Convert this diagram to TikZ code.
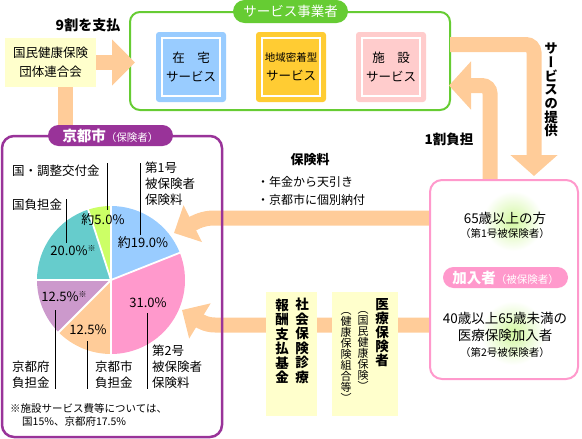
\documentclass[tikz,border=0pt]{standalone}
\usepackage{fontspec}
\setmainfont{Noto Sans CJK JP}
\newfontfamily\vfont[RawFeature=+vert]{Noto Sans CJK JP}
\usetikzlibrary{arrows.meta}
\definecolor{sgreen}{HTML}{66CC33}
\definecolor{arr}{HTML}{FFCC99}
\definecolor{kyel}{HTML}{FFFFCC}
\definecolor{kpur}{HTML}{993399}
\definecolor{kpink}{HTML}{FF99CC}
\definecolor{bblue}{HTML}{99CCFF}
\definecolor{byel}{HTML}{FFCC33}
\definecolor{bpink}{HTML}{FFCCCC}
\definecolor{ppink}{HTML}{FF99CC}
\definecolor{ppeach}{HTML}{FFCC99}
\definecolor{ppurple}{HTML}{CC99CC}
\definecolor{pteal}{HTML}{66CCCC}
\definecolor{pgreen}{HTML}{CCFF66}
\definecolor{glow}{HTML}{D2F7A0}
\newcommand\fsz[2]{\fontsize{#1}{#2}\selectfont}
\newcommand\kome{\raisebox{4pt}{\fsz{8}{8}※}}
\tikzset{
  band/.style={draw=arr, line width=15pt},
  txt/.style={inner sep=0pt, font=\fsz{12.5}{16}, align=left},
  svcbg/.style={minimum width=70pt, minimum height=70pt, rounded corners=3pt, inner sep=0pt},
  svcfr/.style={draw=white, line width=2pt, minimum width=58pt, minimum height=58pt, inner sep=0pt, align=center, font=\fsz{12.5}{19}},
  leader/.style={draw=black, line width=0.8pt},
  ylbox/.style={fill=kyel, inner sep=0pt},
  vbold/.style={inner sep=0pt, align=center, font=\vfont\bfseries\fsz{13.5}{14.5}},
  vthin/.style={inner sep=0pt, align=center, font=\vfont\fsz{11}{11}},
}
\begin{document}
\begin{tikzpicture}[x=1pt,y=-1pt]
\useasboundingbox (0,0) rectangle (582,439);

% ---------- service provider box ----------
\node[draw=sgreen, line width=2pt, rounded corners=10pt, minimum width=320pt, minimum height=98pt, fill=white] (svc) at (290,61) {};
\node[fill=sgreen, rounded corners=11.5pt, minimum width=115pt, minimum height=23pt, inner sep=0pt, text=white, font=\fsz{13.5}{14}] (svclabel) at (290.5,11.5) {サービス事業者};

\node[svcbg, fill=bblue] (zaitakubg) at (191,67) {};
\node[svcfr] (zaitaku) at (zaitakubg) {在　宅\\サービス};
\node[svcbg, fill=byel] (chiikibg) at (291,67) {};
\node[svcfr] (chiiki) at (chiikibg) {{\fsz{10.5}{19}地域密着型}\\サービス};
\node[svcbg, fill=bpink] (shisetsubg) at (391,67) {};
\node[svcfr] (shisetsu) at (shisetsubg) {施　設\\サービス};

% ---------- kokuho ----------
\node[ylbox, minimum width=91pt, minimum height=49pt, align=center, font=\fsz{12.5}{19}] (kokuho) at (50.5,62.5) {国民健康保険\\団体連合会};
\node[inner sep=0pt, font=\bfseries\fsz{14}{14}] (pay9) at (88,25) {9割を支払};

% ---------- arrows ----------
\draw[band, -{Triangle[length=23pt,width=45pt]}] (kokuho.east) -- (135,62.5);
\draw[band] (65.5,87) -- (65.5,132);
\draw[band, rounded corners=8pt, -{Triangle[length=21pt,width=46pt]}] (450,44.5) -- (534,44.5) -- (534,176);
\draw[band, rounded corners=8pt, -{Triangle[length=22pt,width=47pt]}] (490,181) -- (490,85.5) -- (449,85.5);
\draw[band, -{Triangle[length=21pt,width=40pt]}] (431,218) -- (214,218) .. controls (203,218) and (196,222) .. (174,233);
\draw[band, -{Triangle[length=21pt,width=40pt]}] (431,325) -- (215,325) .. controls (206,325) and (200,321) .. (182,310);

\node[inner sep=0pt, font=\vfont\bfseries\fsz{13.5}{13.7}, align=center] (teikyo) at (551,90) {サ\\ー\\ビ\\ス\\の\\提\\供};
\node[inner sep=0pt, font=\bfseries\fsz{13.5}{14}] (wari1) at (449,139) {1割負担};

\node[inner sep=0pt, font=\bfseries\fsz{13}{14}] (hokenryo) at (310,160) {保険料};
\node[txt, anchor=west, font=\fsz{12}{18}] (hkr) at (257,191) {・年金から天引き\\・京都市に個別納付};

% ---------- middle boxes ----------
\node[ylbox, minimum width=51pt, minimum height=124pt] (shaho) at (291.5,354) {};
\node[vbold] (shaho1) at (302,341) {社\\会\\保\\険\\診\\療};
\node[vbold] (shaho2) at (282,341) {報\\酬\\支\\払\\基\\金};
\node[ylbox, minimum width=66pt, minimum height=124pt] (iryo) at (365,354) {};
\node[vbold, font=\vfont\bfseries\fsz{13.5}{14}] (iryo1) at (382,333) {医\\療\\保\\険\\者};
\node[vthin] (iryo2) at (363,351) {（\\国\\民\\健\\康\\保\\険\\）};
\node[vthin] (iryo3) at (346,357) {（\\健\\康\\保\\険\\組\\合\\等\\）};

% ---------- insured box ----------
\node[draw=kpink, line width=2pt, rounded corners=12pt, minimum width=148pt, minimum height=199pt, fill=white] (kanyu) at (504,279.5) {};
\shade[inner color=glow, outer color=white] (513,221) circle (30);
\shade[inner color=glow, outer color=white] (513,333) circle (32);
\node[inner sep=0pt, font=\fsz{13.5}{16}] (age65) at (505,218) {65歳以上の方};
\node[inner sep=0pt, font=\fsz{10.5}{12}] (age65b) at (505,234) {（第1号被保険者）};
\node[fill=kpink, rounded corners=10.5pt, minimum width=125pt, minimum height=21pt, inner sep=0pt, text=white] (kanyulabel) at (505.5,277.5) {{\bfseries\fsz{14.5}{15}加入者}{\fsz{10.5}{12}（被保険者）}};
\node[inner sep=0pt, align=center, font=\fsz{13.5}{17}] (age40) at (505,326.5) {40歳以上65歳未満の\\医療保険加入者};
\node[inner sep=0pt, font=\fsz{10.5}{12}] (age40b) at (505,353) {（第2号被保険者）};

% ---------- Kyoto city box ----------
\node[draw=kpur, line width=2.5pt, rounded corners=12pt, minimum width=220pt, minimum height=301pt] (kyoto) at (112,286.5) {};
\node[fill=kpur, rounded corners=10.5pt, minimum width=125pt, minimum height=21pt, inner sep=0pt, text=white] (kyotolabel) at (110.5,135.5) {{\bfseries\fsz{14.5}{15}京都市}{\fsz{10.5}{12}（保険者）}};

% pie
\begin{scope}[shift={(111,280)}]
\fill[bblue] (0,0) -- (-90:74) arc[start angle=-90,end angle=-21.6,radius=74] -- cycle;
\fill[ppink] (0,0) -- (-21.6:74) arc[start angle=-21.6,end angle=90,radius=74] -- cycle;
\fill[ppeach] (0,0) -- (90:74) arc[start angle=90,end angle=135,radius=74] -- cycle;
\fill[ppurple] (0,0) -- (135:74) arc[start angle=135,end angle=180,radius=74] -- cycle;
\fill[pteal] (0,0) -- (180:74) arc[start angle=180,end angle=252,radius=74] -- cycle;
\fill[pgreen] (0,0) -- (252:74) arc[start angle=252,end angle=270,radius=74] -- cycle;
\foreach \a in {-90,-21.6,90,135,180,252} \draw[white, line width=1.8pt] (0,0) -- (\a:75);
\end{scope}

\draw[leader] (107,163) -- (107,210);
\draw[leader] (140,163) -- (140,235);
\draw[leader] (66,199) -- (66,243);
\draw[leader] (55,310) -- (55,389);
\draw[leader] (87,341) -- (87,389);
\draw[leader] (147,313) -- (147,389);

\node[txt, anchor=west] (l1) at (12,171) {国・調整交付金};
\node[txt, anchor=north west] (l2) at (145,162) {第1号\\被保険者\\保険料};
\node[txt, anchor=west] (l3) at (12,205) {国負担金};
\node[txt, anchor=north west] (l4) at (12,361) {京都府\\負担金};
\node[txt, anchor=north west] (l5) at (95,361) {京都市\\負担金};
\node[txt, anchor=north west] (l6) at (152,345) {第2号\\被保険者\\保険料};

\node[inner sep=0pt, font=\fsz{13}{14}] (p5) at (103,220) {約5.0\%};
\node[inner sep=0pt, font=\fsz{13}{14}] (p19) at (143,243) {約19.0\%};
\node[inner sep=0pt, font=\fsz{13}{14}] (p20) at (73,251) {20.0\%\kome};
\node[inner sep=0pt, font=\fsz{13}{14}] (p125a) at (64,297) {12.5\%\kome};
\node[inner sep=0pt, font=\fsz{13}{14}] (p125b) at (88,330) {12.5\%};
\node[inner sep=0pt, font=\fsz{13}{14}] (p31) at (148,303) {31.0\%};

\node[inner sep=0pt, anchor=west, font=\fsz{10.5}{14}] (note1) at (10,408) {※施設サービス費等については、};
\node[inner sep=0pt, anchor=west, font=\fsz{10.5}{14}] (note2) at (22,422) {国15\%、京都府17.5\%};
\end{tikzpicture}
\end{document}
